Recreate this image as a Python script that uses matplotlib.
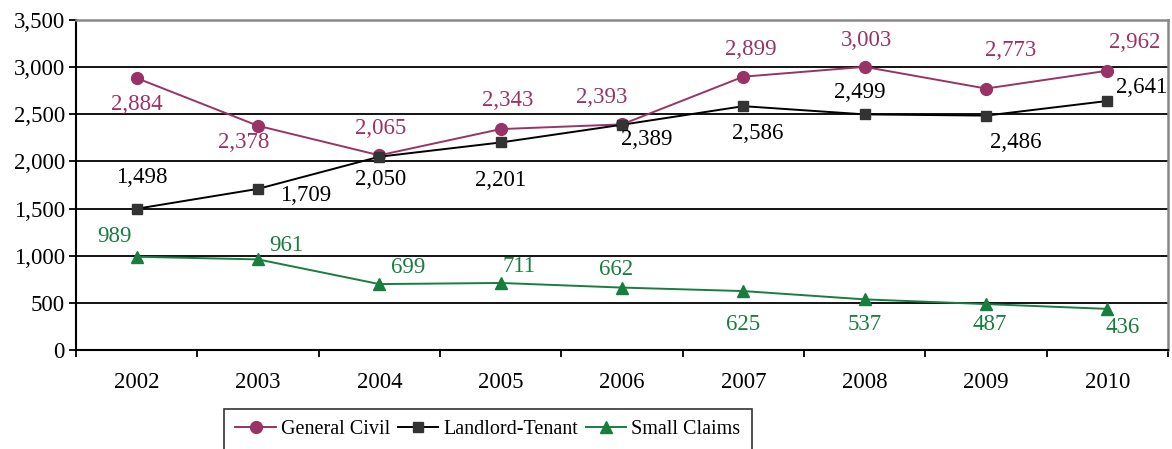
import matplotlib
matplotlib.use("Agg")
import matplotlib.pyplot as plt
from matplotlib.ticker import FuncFormatter, MultipleLocator, FixedLocator
import numpy as np

years = ["2002", "2003", "2004", "2005", "2006", "2007", "2008", "2009", "2010"]
general_civil = [2884, 2378, 2065, 2343, 2393, 2899, 3003, 2773, 2962]
landlord_tenant = [1498, 1709, 2050, 2201, 2389, 2586, 2499, 2486, 2641]
small_claims = [989, 961, 699, 711, 662, 625, 537, 487, 436]

# label offsets in pixels (dx right, dy up)
gc_off = [(0, -26), (-14, -17), (1, 27), (7, 29), (-20, 27), (7, 27), (2, 26), (25, 38), (27, 28)]
lt_off = [(5, 31), (48, -7), (1, -23), (0, -38), (25, -15), (14, -27), (-5, 22), (30, -27), (34, 13)]
sc_off = [(-22, 20), (28, 14), (29, 17), (18, 16), (-6, 18), (0, -33), (0, -25), (4, -20), (15, -19)]

plt.rcParams['font.family'] = ['Liberation Serif', 'DejaVu Serif']
FS = 16.5
LFS = 14.5

c_gc = "#993366"
c_lt = "#000000"
c_sc = "#177e3e"

fig = plt.figure(figsize=(11.72, 4.49), dpi=100)
ax = fig.add_axes([76/1172, 1-350/449, (1168-76)/1172, (350-20)/449])
x = np.arange(len(years))

l1, = ax.plot(x, general_civil, color=c_gc, lw=1.4, marker='o', ms=8.5, mfc=c_gc, mec=c_gc, label="General Civil", zorder=4)
l2, = ax.plot(x, landlord_tenant, color=c_lt, lw=1.4, marker='s', ms=7.5, mfc="#333333", mec="#333333", label="Landlord-Tenant", zorder=4)
l3, = ax.plot(x, small_claims, color=c_sc, lw=1.4, marker='^', ms=9, mfc=c_sc, mec=c_sc, label="Small Claims", zorder=4)

def lab(vals, offs, col):
    for xi, v, (dx, dy) in zip(x, vals, offs):
        ax.annotate(f"{v:,}", (xi, v), xytext=(dx*0.72, dy*0.72), textcoords='offset points',
                    ha='center', va='center', fontsize=FS, color=col, zorder=5)

lab(general_civil, gc_off, c_gc)
lab(landlord_tenant, lt_off, c_lt)
lab(small_claims, sc_off, c_sc)

ax.set_xlim(-0.5, len(years) - 0.5)
ax.set_ylim(0, 3500)
ax.yaxis.set_major_locator(MultipleLocator(500))
ax.yaxis.set_major_formatter(FuncFormatter(lambda v, p: f"{int(v):,}"))
ax.set_xticks(x)
ax.set_xticklabels(years)
ax.xaxis.set_minor_locator(FixedLocator(np.arange(-0.5, len(years), 1.0)))
ax.tick_params(axis='x', which='major', length=0, labelsize=FS, pad=16)
ax.tick_params(axis='x', which='minor', length=5, width=1.3, direction='out', color='black')
ax.tick_params(axis='y', length=5, width=1.3, direction='out', labelsize=FS, pad=3)

ax.yaxis.grid(True, color='black', lw=1.3)
ax.set_axisbelow(True)
for s in ['left', 'bottom']:
    ax.spines[s].set_color('black')
    ax.spines[s].set_linewidth(1.5)
for s in ['top', 'right']:
    ax.spines[s].set_color('#888888')
    ax.spines[s].set_linewidth(1.8)

leg = fig.legend(handles=[l1, l2, l3], loc='upper center', bbox_to_anchor=(488/1172, 1-409/449),
                 ncol=3, fontsize=LFS, frameon=True, fancybox=False, edgecolor='black',
                 handlelength=2.0, handletextpad=0.25, columnspacing=0.4, borderpad=0.55,
                 borderaxespad=0)
leg.get_frame().set_linewidth(1.2)

fig.savefig("out.png", dpi=100)
